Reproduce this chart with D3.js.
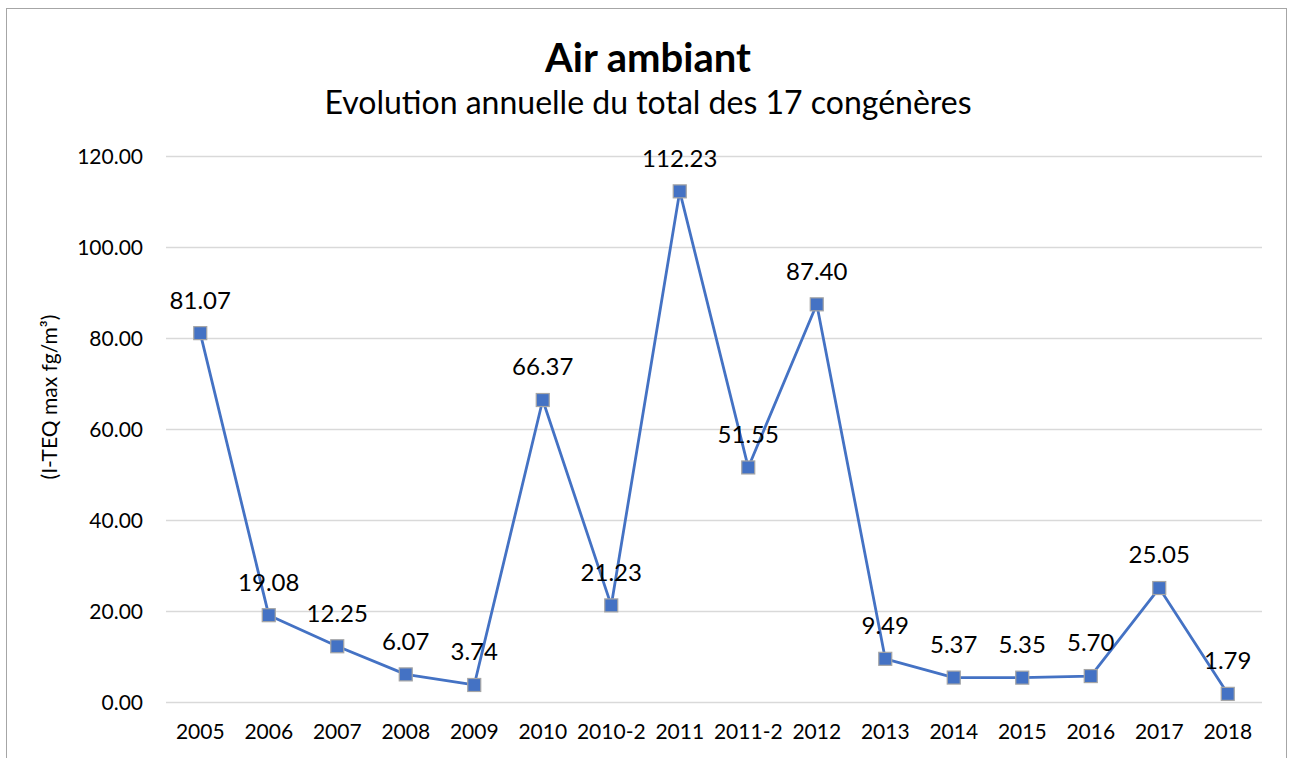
<!DOCTYPE html>
<html>
<head>
<meta charset="utf-8">
<script src="https://cdn.jsdelivr.net/npm/d3@7"></script>
<style>
  body { margin: 0; background: #fff; }
  svg text { font-family: Lato, "Open Sans", sans-serif; fill: #000; }
</style>
</head>
<body>
<div id="chart_area"></div>
<script>
var width = 1291
var height = 758

// Data
var categories = ["2005", "2006", "2007", "2008", "2009", "2010", "2010-2", "2011", "2011-2", "2012", "2013", "2014", "2015", "2016", "2017", "2018"]
var values = [81.07, 19.08, 12.25, 6.07, 3.74, 66.37, 21.23, 112.23, 51.55, 87.40, 9.49, 5.37, 5.35, 5.70, 25.05, 1.79]
var yTicks = [0, 20, 40, 60, 80, 100, 120]

var title = "Air ambiant"
var subtitle = "Evolution annuelle du total des 17 congénères"
var yLabel = "(I-TEQ max fg/m³)"

var plot = {left: 166, right: 1262, top: 156, bottom: 702}
var blue = "#4472C4"

var svg = d3.select("#chart_area")
  .append("svg")
  .attr("width", width)
  .attr("height", height)

// chart frame
svg.append("rect")
  .attr("x", 6.5)
  .attr("y", 8.5)
  .attr("width", 1280)
  .attr("height", 760)
  .attr("fill", "none")
  .attr("stroke", "#a6a6a6")
  .attr("stroke-width", 1)

var x = d3.scaleBand()
  .domain(categories)
  .range([plot.left, plot.right])

var y = d3.scaleLinear()
  .domain([0, 120])
  .range([plot.bottom, plot.top])

// gridlines
svg.append("g")
  .selectAll("line")
  .data(yTicks)
  .join("line")
  .attr("x1", plot.left)
  .attr("x2", plot.right)
  .attr("y1", d => Math.round(y(d)) + 0.5)
  .attr("y2", d => Math.round(y(d)) + 0.5)
  .attr("stroke", "#d9d9d9")
  .attr("stroke-width", 1.5)

// y axis
var yAxis = svg.append("g")
  .attr("transform", "translate(" + (plot.left - 23) + ",0)")
  .call(d3.axisLeft(y).tickValues(yTicks).tickFormat(d3.format(".2f")).tickSize(0).tickPadding(0))
yAxis.select(".domain").remove()
yAxis.selectAll("text")
  .style("font-size", "21px")
  .attr("dy", "0.35em")

// x axis
var xAxis = svg.append("g")
  .attr("transform", "translate(0," + plot.bottom + ")")
  .call(d3.axisBottom(x).tickSize(0).tickPadding(0))
xAxis.select(".domain").remove()
xAxis.selectAll("text")
  .attr("y", 30)
  .attr("dy", "0.35em")
  .style("font-size", "21px")

// line
var line = d3.line()
  .x((d, i) => x(categories[i]) + x.bandwidth() / 2)
  .y(d => y(d))

svg.append("path")
  .datum(values)
  .attr("d", line)
  .attr("fill", "none")
  .attr("stroke", blue)
  .attr("stroke-width", 2.8)
  .attr("stroke-linejoin", "round")

// markers
svg.append("g")
  .selectAll("rect")
  .data(values)
  .join("rect")
  .attr("x", (d, i) => x(categories[i]) + x.bandwidth() / 2 - 6.5)
  .attr("y", d => y(d) - 6.5)
  .attr("width", 13)
  .attr("height", 13)
  .attr("fill", blue)
  .attr("stroke", "#a5a5a5")
  .attr("stroke-width", 1.2)

// data labels
svg.append("g")
  .selectAll("text")
  .data(values)
  .join("text")
  .attr("x", (d, i) => x(categories[i]) + x.bandwidth() / 2)
  .attr("y", d => y(d) - 33)
  .attr("dy", "0.35em")
  .attr("text-anchor", "middle")
  .style("font-size", "24px")
  .text(d => d.toFixed(2))

// titles
svg.append("text")
  .attr("x", 648)
  .attr("y", 58)
  .attr("dy", "0.35em")
  .attr("text-anchor", "middle")
  .style("font-size", "40px")
  .style("font-weight", "700")
  .text(title)

svg.append("text")
  .attr("x", 648)
  .attr("y", 103)
  .attr("dy", "0.35em")
  .attr("text-anchor", "middle")
  .style("font-size", "32px")
  .text(subtitle)

// y axis title
svg.append("text")
  .attr("transform", "translate(50,397) rotate(-90)")
  .attr("dy", "0.35em")
  .attr("text-anchor", "middle")
  .style("font-size", "21px")
  .text(yLabel)
</script>
</body>
</html>
